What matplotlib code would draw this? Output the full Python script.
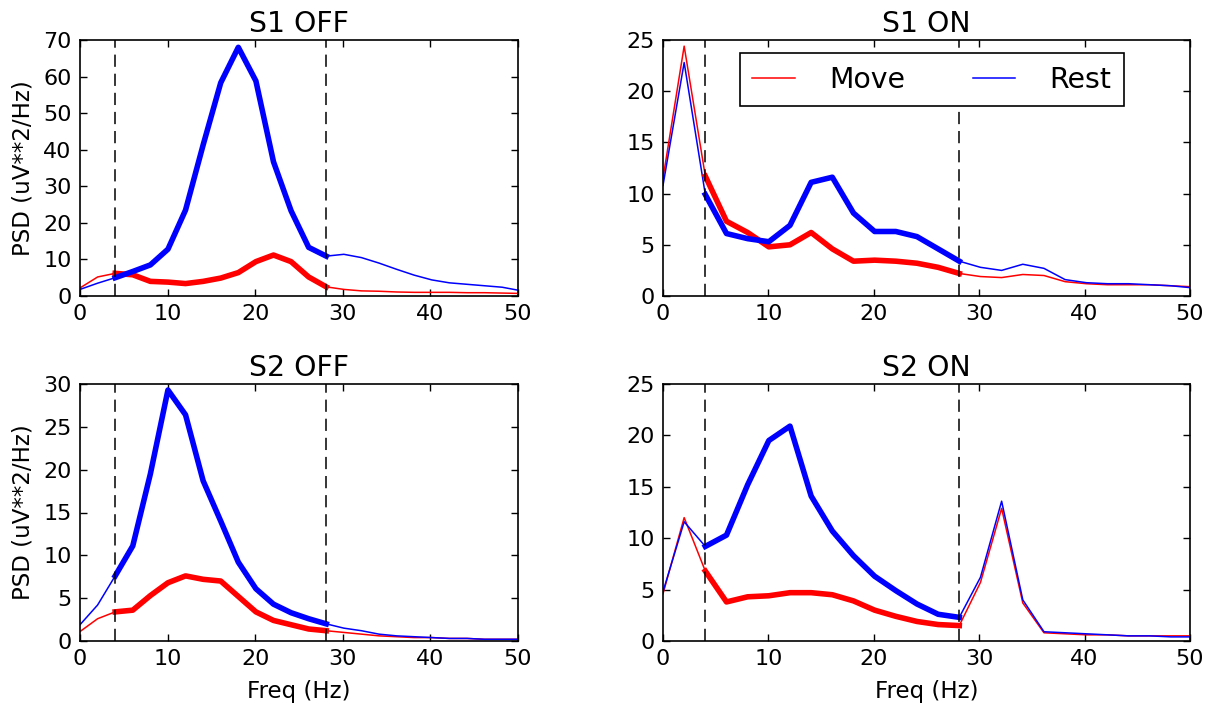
import matplotlib
matplotlib.use("Agg")
import matplotlib.pyplot as plt

freqs = [0.0, 2.008, 4.016, 6.024, 8.032, 10.04, 12.048, 14.056, 16.064, 18.072,
         20.08, 22.088, 24.096, 26.104, 28.112, 30.12, 32.128, 34.136, 36.144,
         38.152, 40.16, 42.168, 44.176, 46.184, 48.192, 50.2]

s1_off_move = [2.2, 5.2, 6.2, 5.8, 4.0, 3.8, 3.4, 4.0, 4.9, 6.4, 9.4, 11.2, 9.4,
               5.2, 2.5, 1.8, 1.4, 1.3, 1.1, 1.0, 1.0, 1.0, 0.9, 0.9, 0.8, 0.7]
s1_off_rest = [1.8, 3.5, 5.0, 6.7, 8.5, 12.8, 23.5, 41.3, 58.3, 68.0, 58.8, 36.7,
               23.3, 13.3, 10.9, 11.4, 10.5, 9.0, 7.3, 5.7, 4.4, 3.6, 3.2, 2.8, 2.4, 1.5]

s1_on_move = [11.5, 24.4, 11.7, 7.3, 6.2, 4.8, 5.0, 6.2, 4.6, 3.4, 3.5, 3.4, 3.2,
              2.8, 2.2, 1.9, 1.8, 2.1, 2.0, 1.4, 1.2, 1.1, 1.1, 1.1, 1.0, 0.9]
s1_on_rest = [10.8, 22.8, 9.9, 6.1, 5.6, 5.3, 6.9, 11.1, 11.6, 8.1, 6.3, 6.3, 5.8,
              4.6, 3.4, 2.8, 2.5, 3.1, 2.7, 1.6, 1.3, 1.2, 1.2, 1.1, 1.0, 0.8]

s2_off_move = [1.1, 2.6, 3.4, 3.6, 5.3, 6.8, 7.6, 7.2, 7.0, 5.2, 3.4, 2.4, 1.9,
               1.4, 1.2, 1.0, 0.8, 0.6, 0.5, 0.4, 0.4, 0.3, 0.3, 0.2, 0.2, 0.2]
s2_off_rest = [1.9, 4.2, 7.6, 11.1, 19.5, 29.3, 26.4, 18.7, 14.0, 9.2, 6.1, 4.3,
               3.3, 2.6, 2.0, 1.5, 1.2, 0.8, 0.6, 0.5, 0.4, 0.3, 0.3, 0.2, 0.2, 0.2]

s2_on_move = [4.6, 12.0, 6.8, 3.8, 4.3, 4.4, 4.7, 4.7, 4.5, 3.9, 3.0, 2.4, 1.9,
              1.6, 1.5, 5.7, 12.9, 3.7, 0.8, 0.7, 0.6, 0.6, 0.5, 0.5, 0.5, 0.5]
s2_on_rest = [4.8, 11.6, 9.2, 10.3, 15.2, 19.5, 20.9, 14.1, 10.7, 8.3, 6.3, 4.9,
              3.6, 2.6, 2.3, 6.2, 13.6, 4.0, 0.9, 0.8, 0.7, 0.6, 0.5, 0.5, 0.4, 0.4]

titles = ["S1 OFF", "S1 ON", "S2 OFF", "S2 ON"]
y_maxes = [70, 25, 30, 25]
y_steps = [10, 5, 5, 5]
x_ticks = [0, 10, 20, 30, 40, 50]
band_lo, band_hi = 2, 14  # indices of the band edges in freqs

panels = [(s1_off_move, s1_off_rest), (s1_on_move, s1_on_rest),
          (s2_off_move, s2_off_rest), (s2_on_move, s2_on_rest)]

plt.rcParams['font.family'] = ['DejaVu Sans']

fig = plt.figure(figsize=(12.15, 7.06), dpi=100, facecolor='white')
W, H = 1215.0, 706.0
rects = [(80, 40, 518, 296), (663, 40, 1190, 296),
         (80, 384, 518, 641), (663, 384, 1190, 641)]

for i, ((move, rest), title) in enumerate(zip(panels, titles)):
    l, t, r, b = rects[i]
    ax = fig.add_axes([l / W, 1 - b / H, (r - l) / W, (b - t) / H])
    ax.plot(freqs, move, color='red', lw=1.1, label='Move')
    ax.plot(freqs, rest, color='blue', lw=1.1, label='Rest')
    ax.plot(freqs[band_lo:band_hi + 1], move[band_lo:band_hi + 1], color='red', lw=4.0)
    ax.plot(freqs[band_lo:band_hi + 1], rest[band_lo:band_hi + 1], color='blue', lw=4.0)
    for k in (band_lo, band_hi):
        ax.axvline(freqs[k], color='black', lw=1.1, dashes=(8, 4.5))
    ax.set_xlim(0, 50)
    ax.set_ylim(0, y_maxes[i])
    ax.set_xticks(x_ticks)
    ax.set_yticks(list(range(0, y_maxes[i] + 1, y_steps[i])))
    ax.tick_params(direction='in', top=True, right=True, length=5, width=1,
                   labelsize=16, pad=6)
    for s in ax.spines.values():
        s.set_linewidth(1.2)
    ax.set_title(title, fontsize=20.4, pad=6)
    if i % 2 == 0:
        ax.set_ylabel('PSD (uV**2/Hz)', fontsize=16.5, labelpad=6)
    if i >= 2:
        ax.set_xlabel('Freq (Hz)', fontsize=16.5, labelpad=8)
    if i == 1:
        leg = ax.legend(loc='upper center', ncol=2, fontsize=20.4, fancybox=False,
                        framealpha=1, edgecolor='black', handlelength=1.5,
                        handletextpad=1.2, columnspacing=2.4, borderpad=0.45,
                        borderaxespad=0.45, bbox_to_anchor=(0.51, 1.0))
        leg.get_frame().set_linewidth(1.2)

fig.savefig('out.png', dpi=100, facecolor='white')
